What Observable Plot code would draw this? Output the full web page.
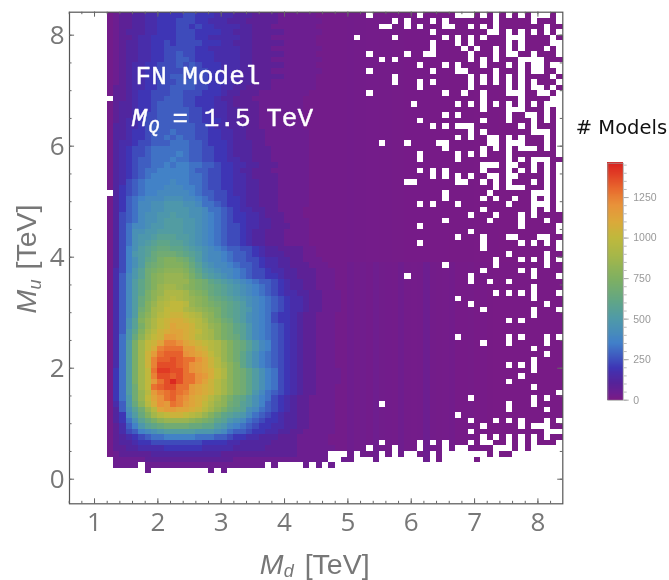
<!DOCTYPE html>
<html><head><meta charset="utf-8">
<script src="https://cdn.jsdelivr.net/npm/d3@7"></script>
<script src="https://cdn.jsdelivr.net/npm/@observablehq/plot@0.6"></script>
<style>
html,body{margin:0;padding:0;background:#fff}
#wrap{position:relative;width:669px;height:580px;overflow:hidden;filter:blur(0.35px)}
#wrap svg{position:absolute;display:block;background:transparent}
</style></head><body><div id="wrap"></div>
<script>
// Counts per 0.1 x 0.1 TeV bin. One char = count/40; "." = empty bin.
// Columns Md = 1.2 ... 4.9, rows Mu = 8.4 (top) ... 0.1
const nearRows = [
"01223344555566555444333222211111100000","01223344555666554443332222211111110000",
"01223344555665655444433222111111100000","01233344555666555544333222221111110000",
"01223445555666554444433222111111100000","01233445565666655544333222221111100000",
"01233445566666554444433222111111110000","01233445566766555444433222221111100000",
"01233445566776555444433222111111110000","01234455666767655544433222221111100000",
"01234455666677665544433222111111110000","01234455667767665554433222221111100000",
"01234455666777665554433222111111100000","02234455667777665544332222111111100000",
"02234556667766655543322211111111000000",".223455667776655543322211111111000000",
"0233455677776655544322221111111000000","0233455677777665544332221111111000000",
"0233456677777665544332221111111000000","0234456677777665554332221111111000000",
"0334456777777766544333221111111000000","0334556777877766554433222111111100000",
"0334556778787766554433222111111100000","0344566777888776555433322111111100000",
"0345667888888776655433322211111100000","0345667888898776655433322211111100000",
"0345677888988776655443322211111100000","0345677889899887765544332221111100000",
"0345678899999877665543322211111100000","0345678999999887665544322221111100000",
"0346789999a99887665544332221111100000","035678999aaa9987665544332221111100000",
".3567899aaaaa987766544332221111100000","035789aaabbbaa98766554332221111100000",
"03578aabbcccbba8876554332221111100000","03578aabbccccbba88765443322111100000",
"03678abbccdccbba98765544322211100000","03678abbcdddccba98765544332211110000",
"0368aabccdddccba98766544332221110000","0368bbccddddccba98766543322211110000",
"0368bccdeeeddcba98766543322211110000","0368bcdeffeedcba98766543322211110000",
"0369bdefggffedcba9877665433222211000","0369cdeghhhgfedbaa987765433322211000",
"0369bdfgijjihfdbaa9877665443322111000","0369bdghijjjigecbaa987765443322211100",
"0469cehijkkkjhfdcbaa987665443322211100","047acehjklllkigedcba987665543322211100",
"047adfhjklllljihfedcba987765433221110","047adfhjlmmlkjihgfedcba98765433221110",
"047adfiklnnnmkjigfedcba98765443322111","047adgikmnonmlkjhgfedcba9876544322111",
"047adgjlnoppolkjihgfedba9876544322111","047adhjmnpppnmlkjigfedca98765443221110",
"047adikmopqqponlkigfedba98655432211100","047bejlnpqrrqpomkjhgedba98655432211100",
"047beilnpqsrrqonlkihfeca98765432211100","047cfjmoqrssrqpnmkihfeca98765432211100",
"048cgknpqttsrqonmkihgeca98765432211100","048dimpqsvvusrqponljhgeca9765432211100",
"048dimprvwwwttrqonljhgeca9765432211100","048dimqtwxxxutsrpnljhfdb98765432211100",
"048dimqvxxyxwwusqoljhfdb98765432211100","048dimqvyyyxwutsqomkifdb98765432211100",
"058dimpwzzyywutsrpnkihfdb9865432211110","058dimpvyyxywwutrpnkihfdb9865432211110",
"058dimptwy#ywwusqomkihfdb9865432211110","058dhmpwxyywwtsrqomkihfdb9865432211100",
"058dhlotvwxwvtsrqomkihfca8765432211100","058chlpsuwxvusrqomkigfdb98654322111100",
"047cgkorutwvtsrpnlkhgedb97654322111100","037behlosttssrqomkigfeba87654322111100",
"035adgjmopqqponljhfedca876543322111100","0358begikllllkjihfecba8765543322111100",
"02479cefghhhhggffdca987655443322111100","024679abcdddddcccba8776554433221111100",
"0234567889999988877655443332221111100","0233455666666665555443333322221111100",
"02233444455555544444333332222211111100","01222223333333333322222222222211111...",
".1111122222222222222111111111111111..1",
".1111.1111111111111111111.1....1.1.1..",
"......1.........1.1...................."
].map(s => s.slice(0,38).padEnd(38,"0"));

// Far right columns (Md = 5.0 ... 8.3): very low counts, nearly column-wise
const farUpper = [24,22,22,20,20,18,18,16,16,14,14,14,14,12,12,12,10,10,10,10,8,8,8,8,6,6,6,6,6,6,6,6,6,6];
const farLower = [34,26,30,24,36,26,24,22,34,22,20,22,40,22,18,20,24,14,14,16,12,14,10,8,8,8,8,8,8,8,8,8,8,8];

// Empty bins in the far region: row index -> column indices (column 0 is Md = 1.2)
const emptyFar = [
[41,49,55,56,57,59,61,63,65,67,68,69,71],[45,47,51,53,61,67,71],[43,44,47,49,53,54,57,59,61,69],
[51,60,61,63,65,67,69,71],[39,45,53,55,57,59,63,64,65,70],[51,55,57,63,65,70,71],
[51,56,58,61,63,65,69,71],[41,47,50,51,57,61,63,64,67,71],[43,45,57,59,61,65,66,67,68],
[49,53,55,59,63,65,67,68,70,71],[41,51,55,56,61,65,67,68,71],[45,57,59,61,63,65,70],
[45,49,51,57,59,61,63,65,67,71],[49,57,63,65,67,68,70],[41,53,56,59,63,64,65,68,69,71],
[59,65,70,71],[48,55,57,59,61,63,65,67,69,70,71],[59,63,64,65,69,71],
[53,55,63,66,67,69,71],[49,59,63,67,69,71],[51,53,55,56,57,65,67,71],
[57,59,67,68,69,71],[55,57,60,61,63,65,69,71],[43,47,52,53,60,61,63,64,65,69,71],
[53,59,61,63,65,66,67,69,71],[49,55,57,59,63,71],[49,55,63,65,67,68,69],
[59,60,61,63,64,67,69,71],[49,51,53,59,63,65,67,69,71],[51,53,55,57,60,61,63,64,69,71],
[47,48,55,56,59,61,63,67,69,71],[61,63,64,65,69,71],[53,60,67,68,69,71],
[53,59,61,64,67,69,71],[49,51,55,63,67,68,69,71],[59,67,69,71],
[57,61,65,67],[53,60,65,69],[49,65,71],[57,71],[55,59,63,64,68,69],
[49,59,65,67,69,71],[59,71],[63,69],[61,65,67,69,71],[53,61,69],[59,65,67],
[47,57,67,71],[57,60,63],[67],[61,63,65,67,71],[55,67],[57,69],[59,67,71],[67],[63,65],[],[],
[55,63,65,69,71],[59,63,69],[67],[69],[67],[63,65,67],[67],[65],[63],[67],[71],[57,67,69],
[43,63,67],[63,69],[55],[57,61,63,65,69,71],[59,65,67,68,69],[57,69,70,71],[59,61,63,65,67,69],
[43,49,51,53,57,59,60,63,65,67,71],[41,45,49,53,55,56,61,62,63,65,67,68,69,70,71]
];
// Lowest rows: only these far bins are filled
const filledRow79 = [38,40,41,42,44,46,49,50,52,60,62,63];
const filledRow80 = [38,42,50,52,58];

const xMajor = [1,2,3,4,5,6,7,8];
const yMajor = [0,2,4,6,8];
const xMinor = d3.range(0.6,8.4,0.2);
const yMinor = d3.range(0,8.5,0.5);
const colorDomain = [0,40,100,200,250,350,500,600,750,900,1000,1100,1200,1300,1400,1462];
const colorRange = ["#7b1a83","#6c1e90","#562299","#3e35b5","#3e50bd","#4180c9","#4f9aa8","#5fa588","#80b060","#a8b748","#c0b83c","#dba93a","#e8923a","#e86a2e","#e03a24","#d9201e"];
const barTicks = [0,250,500,750,1000,1250];

const levels = "0123456789abcdefghijklmnopqrstuvwxyz#";
const cells = [];
function push(r,c,v){cells.push({x1:1.2+c*0.1,x2:1.3+c*0.1,y1:8.4-r*0.1,y2:8.3-r*0.1,v});}
nearRows.forEach((s,r)=>{
  [...s].forEach((ch,c)=>{ if(ch!=="."){ push(r,c,Math.max(22,levels.indexOf(ch)*40)); } });
  if(r<79){
    const far = r<45?farUpper:farLower;
    far.forEach((v,i)=>{ const c=38+i; if(!emptyFar[r].includes(c)) push(r,c,v); });
  } else if(r===79){ filledRow79.forEach(c=>push(r,c,farLower[c-38])); }
  else if(r===80){ filledRow80.forEach(c=>push(r,c,farLower[c-38])); }
});

const PX = p => 1+(p-94)/63.3, PY = p => (478.7-p)/55.5;
const yb=-0.443, yt=8.414, xl=0.605, xr=8.393;
const tickCol="#666";
const ann = (x,y,text,o)=>Plot.text([text],{x:PX(x),y:PY(y),text:d=>d,textAnchor:"start",lineAnchor:"bottom",...o});
const mono={fontFamily:"Liberation Mono",fontSize:26,fill:"#fff",stroke:"#fff",strokeWidth:0.4};
const lab={fontFamily:"Liberation Sans",fontSize:28.5,fill:"#777"};

const main = Plot.plot({
  width:669,height:580,marginLeft:69,marginRight:106.7,marginTop:11.7,marginBottom:76.7,
  style:{background:"transparent",fontFamily:"Open Sans"},
  x:{domain:[xl,xr],axis:null},y:{domain:[yb,yt],axis:null},
  color:{type:"linear",domain:colorDomain,range:colorRange,clamp:true},
  marks:[
    Plot.rect(cells,{x1:"x1",x2:"x2",y1:"y1",y2:"y2",fill:"v",shapeRendering:"crispEdges"}),
    Plot.frame({stroke:"#555",strokeWidth:1.2}),
    Plot.ruleX(xMinor,{y1:yb,y2:yb+0.045,stroke:tickCol}),
    Plot.ruleX(xMinor,{y1:yt,y2:yt-0.045,stroke:tickCol}),
    Plot.ruleX(xMajor,{y1:yb,y2:yb+0.09,stroke:tickCol}),
    Plot.ruleX(xMajor,{y1:yt,y2:yt-0.09,stroke:tickCol}),
    Plot.ruleY(yMinor,{x1:xl,x2:xl+0.04,stroke:tickCol}),
    Plot.ruleY(yMinor,{x1:xr,x2:xr-0.04,stroke:tickCol}),
    Plot.ruleY(yMajor,{x1:xl,x2:xl+0.08,stroke:tickCol}),
    Plot.ruleY(yMajor,{x1:xr,x2:xr-0.08,stroke:tickCol}),
    Plot.axisX(xMajor,{anchor:"bottom",tickSize:0,tickPadding:9,label:null,fontSize:26,color:"#777",tickFormat:"d"}),
    Plot.axisY(yMajor,{anchor:"left",tickSize:0,tickPadding:5,label:null,fontSize:26,color:"#777",tickFormat:"d"}),
    ann(135,84,"FN Model",mono),
    ann(131,126,"M",{...mono,fontStyle:"italic"}),
    ann(148,132,"Q",{...mono,fontStyle:"italic",fontSize:18}),
    ann(172,126,"= 1.5 TeV",mono),
    ann(259,573,"M",{...lab,fontStyle:"italic"}),
    ann(283,576,"d",{...lab,fontStyle:"italic",fontSize:18}),
    ann(304,573,"[TeV]",lab),
    Plot.text(["M"],{x:PX(36),y:PY(313),text:d=>d,rotate:-90,textAnchor:"start",lineAnchor:"bottom",...lab,fontStyle:"italic"}),
    Plot.text(["u"],{x:PX(41),y:PY(289),text:d=>d,rotate:-90,textAnchor:"start",lineAnchor:"bottom",...lab,fontStyle:"italic",fontSize:18}),
    Plot.text(["[TeV]"],{x:PX(36),y:PY(269),text:d=>d,rotate:-90,textAnchor:"start",lineAnchor:"bottom",...lab}),
    ann(575,134,"# Models",{fontFamily:"DejaVu Sans",fontSize:19.5,fill:"#111"})
  ]
});
main.style.left="0";main.style.top="0";
document.getElementById("wrap").appendChild(main);

const barVals = d3.range(0,1462,6);
const bar = Plot.plot({
  width:69,height:260,marginLeft:7.3,marginRight:46.3,marginTop:12.7,marginBottom:10.3,
  style:{background:"transparent",fontFamily:"Liberation Sans"},
  x:{axis:null},y:{domain:[0,1462],axis:null},
  color:{type:"linear",domain:colorDomain,range:colorRange,clamp:true},
  marks:[
    Plot.rect(barVals,{y1:d=>d,y2:d=>d+6.5,fill:d=>d+3,shapeRendering:"crispEdges"}),
    Plot.frame({stroke:"#999",strokeWidth:0.8}),
    Plot.axisY(d3.range(0,1451,50),{anchor:"right",tickSize:3,stroke:"#bbb",tickFormat:()=>"",label:null}),
    Plot.axisY(barTicks,{anchor:"right",tickSize:5,tickPadding:5,stroke:"#aaa",color:"#999",fontSize:10.5,label:null,tickFormat:"d"})
  ]
});
bar.style.left="600px";bar.style.top="150px";
document.getElementById("wrap").appendChild(bar);
</script></body></html>
